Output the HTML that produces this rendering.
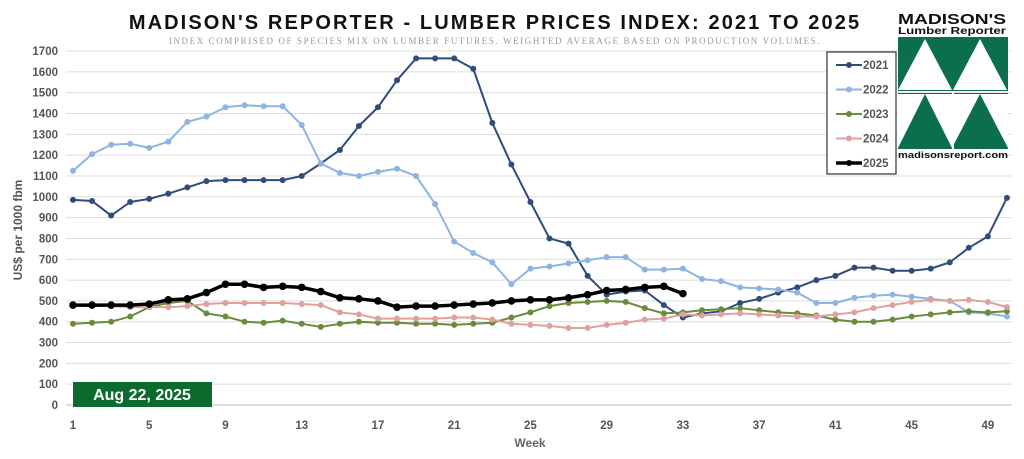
<!DOCTYPE html><html><head><meta charset="utf-8"><style>body{margin:0;background:#fff;}svg{display:block}</style></head><body>
<svg id="s" width="1024" height="459" xmlns="http://www.w3.org/2000/svg" font-family="Liberation Sans, sans-serif">
<text x="495" y="29" text-anchor="middle" font-size="20" font-weight="bold" letter-spacing="2.1" fill="#111">MADISON'S REPORTER - LUMBER PRICES INDEX: 2021 TO 2025</text>
<text x="495" y="44" text-anchor="middle" font-size="9" font-family="Liberation Serif, serif" letter-spacing="1.6" fill="#999">INDEX COMPRISED OF SPECIES MIX ON LUMBER FUTURES. WEIGHTED AVERAGE BASED ON PRODUCTION VOLUMES.</text>
<g id="grid"></g><g id="ser"></g>
<rect x="73" y="382" width="139" height="25" fill="#0b6b2e"/>
<text x="142" y="400" text-anchor="middle" font-size="16" font-weight="bold" fill="#fff">Aug 22, 2025</text>
<text x="530" y="447" text-anchor="middle" font-size="12" font-weight="bold" fill="#666">Week</text>
<text transform="translate(22,230) rotate(-90)" text-anchor="middle" font-size="12" font-weight="bold" fill="#555">US$ per 1000 fbm</text>
<rect x="827" y="52" width="69" height="122" fill="#fff" stroke="#333" stroke-width="1.2"/>
<g id="leg"></g>
<g>
<text x="898" y="24" font-size="15" font-weight="900" fill="#111" textLength="108" lengthAdjust="spacingAndGlyphs">MADISON'S</text>
<text x="898" y="34" font-size="10.5" font-weight="bold" fill="#111" textLength="108" lengthAdjust="spacingAndGlyphs">Lumber Reporter</text>
<rect x="898" y="37" width="110" height="54" fill="#0a6e4f"/>
<rect x="898" y="93" width="110" height="56" fill="#0a6e4f"/>
<polygon points="898,90 925,39 952,90" fill="#fff"/><polygon points="953,90 980,39 1007,90" fill="#fff"/>
<polygon points="898,94 925,94 898,148" fill="#fff"/><polygon points="925,94 952,148 980,94" fill="#fff"/><polygon points="980,94 1008,94 1008,148" fill="#fff"/>
<rect x="952" y="92" width="2" height="57" fill="#fff"/>
<text x="898" y="158" font-size="9.5" font-weight="bold" fill="#111" textLength="110" lengthAdjust="spacingAndGlyphs">madisonsreport.com</text>
</g>
</svg>
<script>
const X=w=>73+(w-1)*19.06,Y=v=>405-v*0.2082;
let g='';for(let v=0;v<=1700;v+=100){g+=`<line x1="66" x2="1012" y1="${Y(v)}" y2="${Y(v)}" stroke="#ddd" stroke-width="1"/><text x="58" y="${Y(v)+4}" text-anchor="end" font-size="11.5" font-weight="bold" fill="#555">${v}</text>`;}
for(let w=1;w<=49;w+=4)g+=`<text x="${X(w)}" y="429" text-anchor="middle" font-size="11.5" font-weight="bold" fill="#555">${w}</text>`;
g+=`<line x1="66" x2="1012" y1="405" y2="405" stroke="#bbb"/>`;
document.getElementById('grid').innerHTML=g;
const D={
'#2e4d7b':[985,980,910,975,990,1015,1045,1075,1080,1080,1080,1080,1100,1160,1225,1340,1430,1560,1665,1665,1665,1615,1355,1155,975,800,775,620,530,545,550,480,420,440,450,490,510,540,565,600,620,660,660,645,645,655,685,755,810,995],
'#8fb4e3':[1125,1205,1250,1255,1235,1265,1360,1385,1430,1440,1435,1435,1345,1160,1115,1100,1120,1135,1100,965,785,730,685,580,655,665,680,695,710,710,650,650,655,605,595,565,560,555,540,490,490,515,525,530,520,510,500,445,440,425],
'#6b8a3a':[390,395,400,425,470,490,500,440,425,400,395,405,390,375,390,400,395,395,390,390,385,390,395,420,445,475,490,495,500,495,465,440,445,455,460,465,455,445,440,430,410,400,400,410,425,435,445,450,445,450],
'#e0a0a0':[475,475,475,470,470,470,475,485,490,490,490,490,485,480,445,435,415,415,415,415,420,420,410,390,385,380,370,370,385,395,410,415,435,430,435,440,435,430,425,425,435,445,465,480,495,505,500,505,495,470],
'#000':[480,480,480,480,485,505,510,540,580,580,565,570,565,545,515,510,500,470,475,475,480,485,490,500,505,505,515,530,550,555,565,570,535]};
let s='',l='',i=0;
for(const c in D){const big=c=='#000';const p=D[c].map((v,k)=>[X(k+1),Y(v)]);
s+=`<polyline points="${p.map(q=>q.join(',')).join(' ')}" fill="none" stroke="${c}" stroke-width="${big?3.5:2}" stroke-linejoin="round"/>`;
p.forEach(q=>s+=`<circle cx="${q[0]}" cy="${q[1]}" r="${big?3.8:3}" fill="${c}"/>`);
const ly=65+i*24.5;l+=`<line x1="836" x2="862" y1="${ly}" y2="${ly}" stroke="${c}" stroke-width="${big?3.5:2}"/><circle cx="849" cy="${ly}" r="3" fill="${c}"/><text x="863" y="${ly+4}" font-size="11.5" font-weight="bold" fill="#555">${2021+i}</text>`;i++;}
document.getElementById('ser').innerHTML=s;document.getElementById('leg').innerHTML=l;
</script></body></html>
